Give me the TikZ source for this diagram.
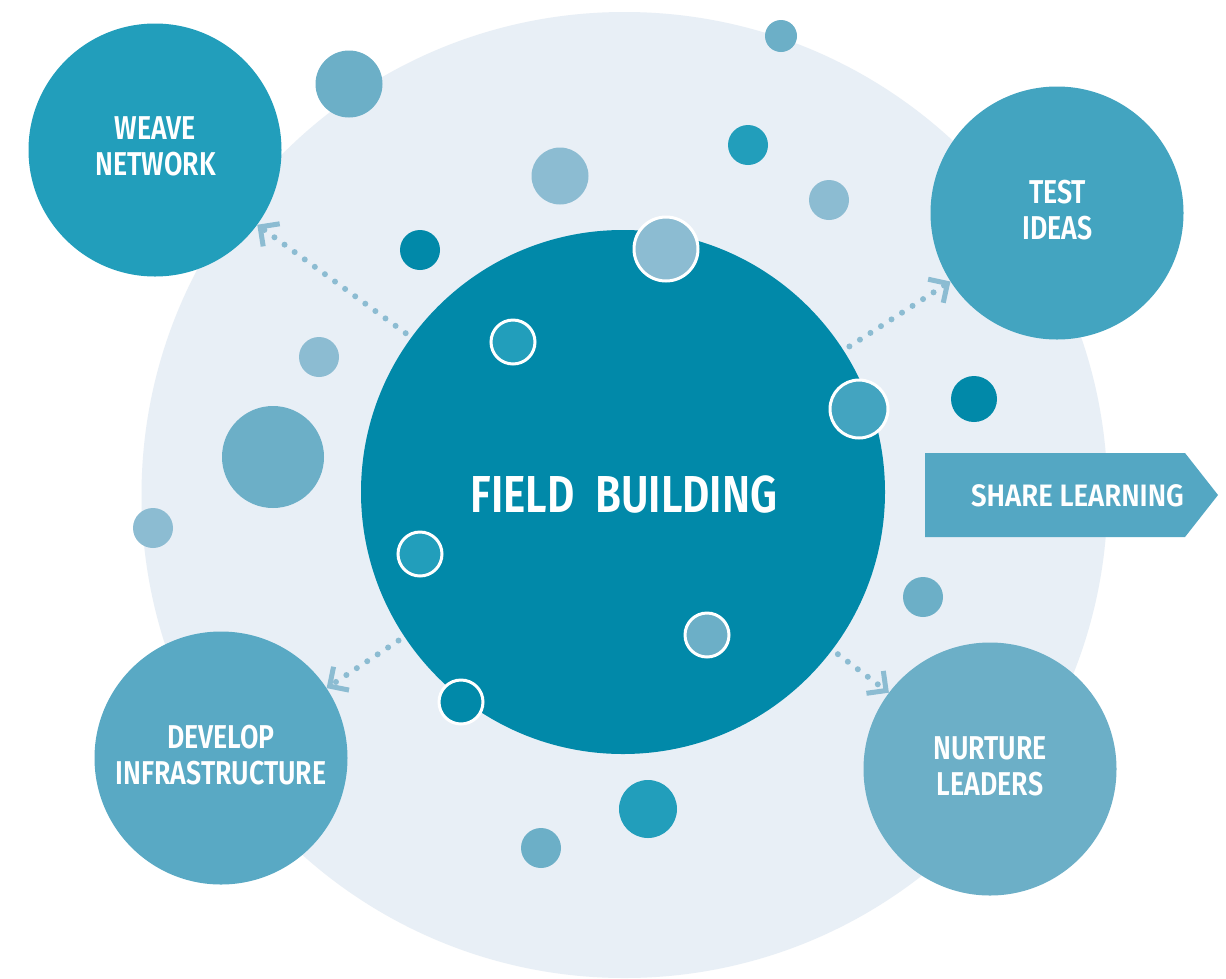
\documentclass[tikz,border=0pt]{standalone}
\usepackage{fontspec}
\newfontfamily\labfont[FakeStretch=0.81, BoldFont={Fira Sans SemiBold}]{Fira Sans}
\newfontfamily\sharefont[FakeStretch=0.89, BoldFont={Fira Sans SemiBold}]{Fira Sans}
\usetikzlibrary{arrows.meta}
\definecolor{bgc}{HTML}{E8EFF6}
\definecolor{cmain}{HTML}{0189A9}
\definecolor{ca}{HTML}{229EBB}
\definecolor{cb}{HTML}{43A4C0}
\definecolor{cc}{HTML}{59A9C4}
\definecolor{cd}{HTML}{6CAFC7}
\definecolor{ce}{HTML}{8CBCD2}
\definecolor{cshare}{HTML}{54A7C3}
\begin{document}
\begin{tikzpicture}[x=1pt,y=-1pt,
  blob/.style={circle, inner sep=0pt, minimum size=#1},
  dotc/.style={circle, inner sep=0pt, minimum size=#1},
  ringc/.style={circle, inner sep=0pt, minimum size=#1, draw=white, line width=3pt},
  lab/.style={text=white, align=center, inner sep=0pt, font={\labfont\bfseries\fontsize{33}{36}\selectfont}},
  conn/.style={draw=ce, line width=6pt, line cap=round, dash pattern=on 0pt off 12.5pt,
    shorten <=7pt, -{Straight Barb[length=14pt,width=28pt,line width=5pt]}}
]
\useasboundingbox (0,0) rectangle (1226,978);
\clip (0,0) rectangle (1226,978);
\fill[white] (0,0) rectangle (1226,978);
% background disc
\node[blob=966pt, fill=bgc] (bg) at (624.5,495) {};
% main disc
\node[blob=524pt, fill=cmain] (main) at (623,492) {};
% outer discs
\node[blob=253pt, fill=ca] (weave) at (155,150) {};
\node[blob=253pt, fill=cb] (test) at (1057,213) {};
\node[blob=253pt, fill=cc] (develop) at (221,758) {};
\node[blob=253pt, fill=cd] (nurture) at (990,769) {};
% share learning arrow
\fill[cshare] (925,453) -- (1185,453) -- (1218,495) -- (1185,537) -- (925,537) -- cycle;
% connectors
\draw[conn] (main) -- (weave);
\draw[conn] (main) -- (test);
\draw[conn] (main) -- (develop);
\draw[conn] (main) -- (nurture);
% small discs
\node[dotc=67pt, fill=cd] (s1) at (349,84) {};
\node[dotc=32pt, fill=cd] (s2) at (781,36) {};
\node[dotc=40pt, fill=ca] (s3) at (748,145) {};
\node[dotc=57pt, fill=ce] (s4) at (560,176) {};
\node[dotc=40pt, fill=ce] (s5) at (829,200) {};
\node[dotc=40pt, fill=cmain] (s6) at (420,250) {};
\node[dotc=40pt, fill=ce] (s7) at (319,357) {};
\node[dotc=102pt, fill=cd] (s8) at (273,457) {};
\node[dotc=40pt, fill=ce] (s9) at (153,528) {};
\node[dotc=46pt, fill=cmain] (s10) at (974,399) {};
\node[dotc=40pt, fill=cd] (s11) at (923,597) {};
\node[dotc=58pt, fill=ca] (s12) at (648,809) {};
\node[dotc=40pt, fill=cd] (s13) at (541,848) {};
% ringed discs
\node[ringc=64pt, fill=ce] (r1) at (666,249) {};
\node[ringc=44pt, fill=ca] (r2) at (513,342) {};
\node[ringc=58pt, fill=cb] (r3) at (859,409) {};
\node[ringc=44pt, fill=ca] (r4) at (420,554) {};
\node[ringc=44pt, fill=cd] (r5) at (707,635) {};
\node[ringc=44pt, fill=cmain] (r6) at (461,702) {};
% labels
\node[lab] (tweave) at (155.5,146.5) {WEAVE\\NETWORK};
\node[lab] (ttest) at (1057.5,210.5) {TEST\\IDEAS};
\node[lab] (tdev) at (221,755.5) {DEVELOP\\INFRASTRUCTURE};
\node[lab] (tnur) at (990,766.5) {NURTURE\\LEADERS};
\node[lab, font={\labfont\bfseries\fontsize{52}{56}\selectfont}] (tmain) at (624,494.5) {FIELD\hspace{0.4em}BUILDING};
\node[lab, font={\sharefont\bfseries\fontsize{31}{36}\selectfont}] (tshare) at (1077.5,495.5) {SHARE LEARNING};
\end{tikzpicture}
\end{document}
